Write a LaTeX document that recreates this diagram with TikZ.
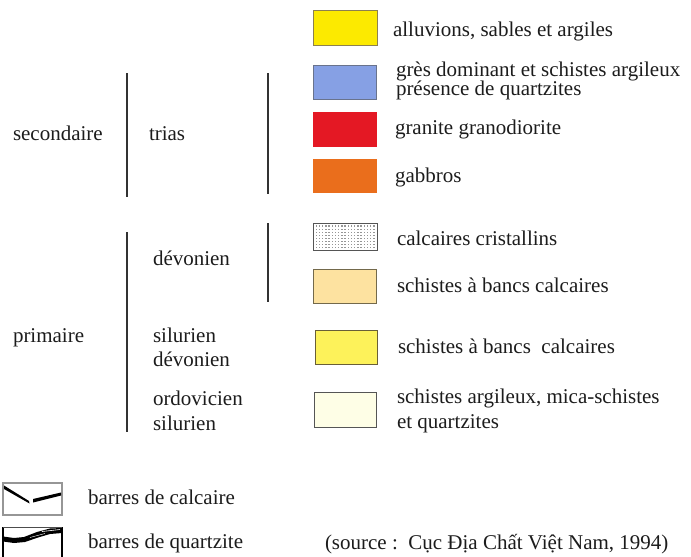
\documentclass[tikz,border=0pt]{standalone}
\usepackage{fontspec}
\setmainfont{Liberation Serif}
\definecolor{textc}{RGB}{28,28,28}
\definecolor{linec}{RGB}{50,50,50}
\definecolor{yelA}{RGB}{252,234,0}
\definecolor{yelAb}{RGB}{140,128,80}
\definecolor{blueA}{RGB}{134,160,228}
\definecolor{blueAb}{RGB}{105,115,140}
\definecolor{redA}{RGB}{228,24,36}
\definecolor{oraA}{RGB}{234,110,28}
\definecolor{dotb}{RGB}{85,85,85}
\definecolor{dotc}{RGB}{150,150,150}
\definecolor{beigeA}{RGB}{253,226,160}
\definecolor{beigeAb}{RGB}{115,105,75}
\definecolor{yelB}{RGB}{253,242,90}
\definecolor{yelBb}{RGB}{105,95,55}
\definecolor{paleA}{RGB}{254,254,230}
\definecolor{paleAb}{RGB}{85,85,85}
\definecolor{symb}{RGB}{150,150,150}
\begin{document}
\begin{tikzpicture}[x=1pt,y=-1pt,
  txt/.style={anchor=base west, inner sep=0, outer sep=0, font=\fontsize{21}{18}\selectfont, text=textc},
  legbox/.style={inner sep=0, outer sep=0, line width=1pt},
  bracket/.style={draw=linec, line width=1.5pt}]
\useasboundingbox (0,0) rectangle (691,557);
% colour boxes
\node[legbox, fill=yelA, draw=yelAb, minimum width=64pt, minimum height=35pt] (bx1) at (345,27.5) {};
\node[legbox, fill=blueA, draw=blueAb, minimum width=63pt, minimum height=34pt] (bx2) at (344.5,82) {};
\node[legbox, fill=redA, minimum width=64pt, minimum height=35pt] (bx3) at (345,129.5) {};
\node[legbox, fill=oraA, minimum width=64pt, minimum height=34pt] (bx4) at (345,176) {};
\node[legbox, fill=white, draw=dotb, minimum width=64pt, minimum height=27pt] (bx5) at (345,236.5) {};
\foreach \i in {0,...,18}{\foreach \j in {0,...,7}{\fill[dotc] (315.6+\i*3.2,225.4+\j*3.1) rectangle ++(1.3,1.3);}}
\node[legbox, fill=beigeA, draw=beigeAb, minimum width=63pt, minimum height=34pt] (bx6) at (344.5,286) {};
\node[legbox, fill=yelB, draw=yelBb, minimum width=62pt, minimum height=34pt] (bx7) at (346,347) {};
\node[legbox, fill=paleA, draw=paleAb, minimum width=62pt, minimum height=35pt] (bx8) at (345,409.5) {};
% right texts
\node[txt] (t1) at (393,36) {alluvions, sables et argiles};
\node[txt] (t2a) at (396,76) {grès dominant et schistes argileux};
\node[txt] (t2b) at (396,95.5) {présence de quartzites};
\node[txt] (t3) at (395,134) {granite granodiorite};
\node[txt] (t4) at (395,182) {gabbros};
\node[txt] (t5) at (397,245) {calcaires cristallins};
\node[txt] (t6) at (397,292) {schistes à bancs calcaires};
\node[txt] (t7) at (398,353) {schistes à bancs\ \ calcaires};
\node[txt] (t8a) at (397,403) {schistes argileux, mica-schistes};
\node[txt] (t8b) at (397,428) {et quartzites};
% left texts
\node[txt] (sec) at (13,140) {secondaire};
\node[txt] (tri) at (149,140) {trias};
\node[txt] (dev1) at (153,265) {dévonien};
\node[txt] (pri) at (13,342) {primaire};
\node[txt] (sil1) at (153,342) {silurien};
\node[txt] (dev2) at (153,366) {dévonien};
\node[txt] (ord) at (153,405) {ordovicien};
\node[txt] (sil2) at (153,430) {silurien};
% brackets
\coordinate (s1a) at (127,73); \coordinate (s1b) at (127,197);
\coordinate (s2a) at (268,73); \coordinate (s2b) at (268,194);
\coordinate (p1a) at (127,232); \coordinate (p1b) at (127,432);
\coordinate (p2a) at (268,223); \coordinate (p2b) at (268,302);
\draw[bracket] (s1a) -- (s1b);
\draw[bracket] (s2a) -- (s2b);
\draw[bracket] (p1a) -- (p1b);
\draw[bracket] (p2a) -- (p2b);
% bottom symbols
\node[inner sep=0, outer sep=0, draw=symb, line width=1.2pt, minimum width=59pt, minimum height=32pt] (sym1) at (32.5,499) {};
\fill[black] (4,485.5) -- (29,501) -- (29.5,503.5) -- (4,489) -- cycle;
\fill[black] (33,499) -- (61,492.5) -- (61,495.5) -- (33,502.5) -- cycle;
\coordinate (q1) at (3,557); \coordinate (q2) at (3,527); \coordinate (q3) at (62,527); \coordinate (q4) at (62,557);
\draw[black, line width=1.4pt] (q1) -- (q2);
\draw[black, line width=1.4pt] (q3) -- (q4);
\draw[black!70, line width=0.9pt] (q2) -- (q3);
\fill[black] (3,536.5) -- (14,538) -- (24,537) -- (37,532) -- (50,528.5) -- (62,528) -- (62,533) -- (50,534) -- (38,537.5) -- (25,542) -- (14,543) -- (3,541.5) -- cycle;
\draw[white, line width=0.6pt] (42,531.5) -- (60,529.5);
\draw[white, line width=0.4pt] (30,537.5) -- (45,533.5);
\node[txt] (bc) at (88,504) {barres de calcaire};
\node[txt] (bq) at (88,548) {barres de quartzite};
\node[txt] (src) at (325,549) {(source :\ \ Cục Địa Chất Việt Nam, 1994)};
\end{tikzpicture}
\end{document}
